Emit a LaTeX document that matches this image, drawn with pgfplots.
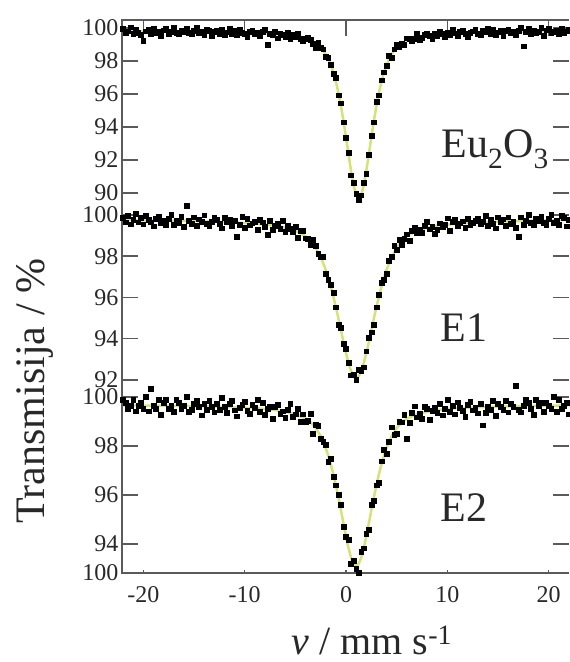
\documentclass[border=0pt]{standalone}
\usepackage{fontspec}
\setmainfont{Liberation Serif}
\usepackage{pgfplots}
\pgfplotsset{compat=1.18}
\usepackage{pgfplotstable}
\definecolor{fitc}{RGB}{214,226,120}
\definecolor{axc}{RGB}{90,90,90}
\definecolor{txt}{RGB}{40,40,40}

\pgfplotstableread{
x y1 y2 y3
-22.00 99.97 99.85 99.90
-21.75 99.73 99.65 99.78
-21.50 99.81 99.95 99.54
-21.25 100.05 99.55 99.66
-21.00 99.65 99.75 99.90
-20.75 99.89 100.05 99.42
-20.50 99.73 99.65 99.66
-20.25 99.57 99.85 99.78
-20.00 99.25 99.55 99.54
-19.75 99.81 99.95 100.02
-19.50 99.89 99.75 99.42
-19.25 99.65 99.65 100.35
-19.00 99.97 99.45 99.66
-18.75 99.73 99.82 99.52
-18.50 99.79 99.92 99.88
-18.25 99.55 99.62 99.28
-18.00 99.87 99.72 99.76
-17.75 99.95 99.52 99.88
-17.50 99.63 99.82 99.52
-17.25 99.79 100.02 99.64
-17.00 100.03 99.52 99.40
-16.75 99.71 99.72 99.88
-16.50 99.63 99.62 99.76
-16.25 99.87 99.92 99.52
-16.00 99.79 99.42 99.64
-15.75 99.95 100.45 100.00
-15.50 99.71 99.72 99.40
-15.25 99.63 99.59 99.50
-15.00 99.85 99.89 99.74
-14.75 100.01 99.49 99.86
-14.50 99.69 99.79 99.62
-14.25 99.77 99.69 99.26
-14.00 99.61 99.99 99.74
-13.75 99.93 99.59 99.50
-13.50 99.85 99.49 99.86
-13.25 99.53 99.69 99.62
-13.00 99.77 99.89 99.38
-12.75 99.85 99.76 99.72
-12.50 99.67 99.56 99.48
-12.25 99.91 99.36 99.96
-12.00 99.59 99.86 99.60
-11.75 99.75 99.66 99.36
-11.50 99.99 99.76 99.72
-11.25 99.67 99.46 99.84
-11.00 99.83 99.73 99.46
-10.75 99.57 98.95 99.22
-10.50 99.89 99.53 99.58
-10.25 99.73 99.93 99.70
-10.00 99.65 99.40 99.80
-9.75 99.47 99.80 99.44
-9.50 99.79 99.50 99.32
-9.25 99.87 99.60 99.68
-9.00 99.63 99.68 99.55
-8.75 99.70 99.27 99.90
-8.50 99.53 99.76 99.41
-8.25 99.76 99.65 99.77
-8.00 99.91 99.44 99.28
-7.75 99.00 99.05 99.51
-7.50 99.65 99.71 99.62
-7.25 99.56 99.30 99.12
-7.00 99.79 99.48 99.59
-6.75 99.38 99.56 99.70
-6.50 99.68 99.33 99.32
-6.25 99.58 99.71 99.42
-6.00 99.48 99.18 99.16
-5.75 99.70 99.46 99.50
-5.50 99.36 99.32 99.72
-5.25 99.58 99.18 99.21
-5.00 99.47 99.44 99.30
-4.75 99.68 98.88 99.51
-4.50 99.33 99.22 98.99
-4.25 99.21 99.25 99.30
-4.00 99.33 98.87 99.00
-3.75 99.44 98.86 99.05
-3.50 99.30 98.54 99.33
-3.25 99.07 98.79 98.51
-3.00 98.82 98.51 98.86
-2.75 99.11 98.11 98.83
-2.50 98.82 97.96 98.29
-2.25 98.72 97.97 98.19
-2.00 98.26 97.14 98.04
-1.75 98.22 96.86 97.37
-1.50 97.77 96.63 97.50
-1.25 97.24 96.25 96.74
-1.00 97.00 95.53 96.40
-0.75 95.93 94.69 96.02
-0.50 95.44 94.52 95.62
-0.25 94.29 93.74 94.72
0.00 93.37 93.50 94.31
0.25 92.42 92.82 94.19
0.50 91.08 92.23 93.20
0.75 90.62 92.28 93.31
1.00 89.94 92.00 92.98
1.25 89.57 92.48 92.83
1.50 89.86 92.43 93.68
1.75 90.62 92.62 93.83
2.00 91.16 93.40 94.43
2.25 92.34 94.04 94.60
2.50 93.45 94.32 95.62
2.75 94.29 94.69 95.78
3.00 95.52 95.53 96.40
3.25 95.93 96.15 96.50
3.50 96.84 96.73 97.38
3.75 97.32 96.86 97.85
4.00 97.69 97.14 97.68
4.25 98.30 97.77 98.19
4.50 98.18 97.96 98.77
4.75 98.72 98.51 98.47
5.00 98.98 98.31 98.50
5.25 98.87 98.79 98.99
5.50 99.06 98.54 98.97
5.75 98.99 98.86 99.29
6.00 99.38 99.07 98.30
6.25 99.36 98.75 98.94
6.50 99.25 99.22 99.35
6.75 99.37 99.38 99.63
7.00 99.65 99.14 99.18
7.25 99.28 99.28 99.33
7.50 99.39 99.12 99.12
7.75 99.58 99.46 99.62
8.00 99.68 99.68 99.52
8.25 99.54 99.31 99.06
8.50 99.32 99.43 99.44
8.75 99.66 99.10 99.58
9.00 99.52 99.28 99.35
9.25 99.78 99.60 99.72
9.50 99.63 99.41 99.26
9.75 99.48 99.53 99.51
10.00 99.73 99.84 99.88
10.25 99.58 99.25 99.41
10.50 99.91 99.66 99.65
10.75 99.68 99.77 99.30
11.00 99.53 99.48 99.79
11.25 99.78 99.60 99.56
11.50 99.87 99.70 99.44
11.75 99.63 99.40 99.20
12.00 99.47 99.80 99.68
12.25 99.71 99.53 99.82
12.50 99.81 99.63 99.46
12.75 99.89 99.73 99.58
13.00 99.65 99.83 99.34
13.25 99.57 99.56 99.72
13.50 99.83 99.66 98.85
13.75 99.75 99.96 99.36
14.00 99.99 99.46 99.60
14.25 99.67 99.76 99.48
14.50 99.91 99.56 99.84
14.75 99.59 99.36 99.24
15.00 99.75 99.89 99.74
15.25 99.85 99.69 99.62
15.50 99.53 99.79 99.50
15.75 99.85 99.49 99.86
16.00 99.93 99.89 99.38
16.25 99.69 99.59 99.74
16.50 99.77 99.69 99.62
16.75 99.61 99.39 100.45
17.00 99.85 98.95 99.50
17.25 100.01 99.89 99.38
17.50 98.90 99.52 99.64
17.75 99.79 99.72 99.88
18.00 99.95 100.02 99.76
18.25 99.63 99.62 99.52
18.50 99.87 99.52 99.28
18.75 99.71 99.82 99.88
19.00 99.79 99.72 99.64
19.25 100.03 99.92 99.76
19.50 99.55 99.62 99.40
19.75 99.87 99.52 99.76
20.00 99.95 99.82 99.64
20.25 99.71 100.02 99.52
20.50 99.79 99.62 100.00
20.75 99.87 99.72 99.40
21.00 99.63 99.52 99.88
21.25 99.97 99.95 99.54
21.50 99.73 99.85 99.66
21.75 99.81 99.45 99.78
22.00 99.89 99.75 99.30
}\spectra

\pgfplotstableread{
x f
-22 99.81
-16 99.79
-12 99.75
-9 99.71
-7 99.63
-6 99.56
-5 99.47
-4 99.33
-3.5 99.22
-3 99.06
-2.5 98.82
-2 98.42
-1.75 98.14
-1.5 97.77
-1.25 97.32
-1 96.76
-0.75 96.09
-0.5 95.28
-0.25 94.37
0 93.37
0.25 92.34
0.5 91.32
0.75 90.46
1.0 89.86
1.25 89.65
1.5 89.86
1.75 90.46
2.0 91.32
2.25 92.34
2.5 93.37
2.75 94.37
3.0 95.28
3.25 96.09
3.5 96.76
3.75 97.32
4.0 97.77
4.25 98.14
4.5 98.42
5.0 98.82
5.5 99.06
6.0 99.22
6.5 99.33
7.5 99.47
8.5 99.56
9.5 99.63
11.5 99.71
14.5 99.75
18.5 99.79
22 99.81
}\fitA

\pgfplotstableread{
x f
-22 99.75
-16 99.72
-12 99.66
-9 99.58
-7 99.48
-6 99.38
-5 99.24
-4 98.97
-3.5 98.74
-3 98.41
-2.5 97.96
-2 97.34
-1.75 96.96
-1.5 96.53
-1.25 96.05
-1 95.53
-0.75 94.99
-0.5 94.42
-0.25 93.84
0 93.30
0.25 92.82
0.5 92.43
0.75 92.18
1.0 92.10
1.25 92.18
1.5 92.43
1.75 92.82
2.0 93.30
2.25 93.84
2.5 94.42
2.75 94.99
3.0 95.53
3.25 96.05
3.5 96.53
3.75 96.96
4.0 97.34
4.5 97.96
5.0 98.41
5.5 98.74
6.0 98.97
7 99.24
8 99.38
9 99.48
11 99.58
14 99.66
18 99.72
22 99.75
}\fitB

\pgfplotstableread{
x f
-22 99.66
-16 99.64
-12 99.60
-9 99.55
-7 99.47
-6 99.40
-5 99.30
-4 99.12
-3.5 98.97
-3 98.74
-2.5 98.41
-2 97.92
-1.75 97.61
-1.5 97.26
-1.25 96.86
-1 96.40
-0.75 95.90
-0.5 95.38
-0.25 94.84
0 94.31
0.25 93.83
0.5 93.44
0.75 93.19
1.0 93.10
1.25 93.19
1.5 93.44
1.75 93.83
2.0 94.31
2.25 94.84
2.5 95.38
2.75 95.90
3.0 96.40
3.25 96.86
3.5 97.26
3.75 97.61
4.0 97.92
4.5 98.41
5.0 98.74
5.5 98.97
6 99.12
7 99.30
8 99.40
9 99.47
11 99.55
14 99.60
18 99.64
22 99.66
}\fitC

\tikzset{frame/.style={draw=axc, line width=1.2pt}}
\pgfplotsset{
  panel/.style={
    scale only axis, width=447pt,
    xmin=-22.1, xmax=22,
    anchor=south west,
    clip=false,
    axis line style={draw=none},
    xtick style={draw=axc, line width=1.5pt},
    ytick style={draw=axc, line width=1.5pt},
    major tick length=16pt,
    tick align=inside,
    ytick pos=both,
    yticklabel pos=left,
    xtick={-20,-10,0,10,20},
    tick label style={font=\fontsize{24}{28}\selectfont, text=txt},
    /pgf/number format/assume math mode=true,
  },
  dots/.style={only marks, mark=square*, mark size=2.4pt, draw=black, fill=black},
  fitl/.style={no marks, draw=fitc, line width=2.5pt},
}

\begin{document}
\begin{tikzpicture}
% bottom panel: E2
\begin{axis}[panel, at={(0pt,0pt)}, height=186pt,
  ymin=92.82, ymax=100.41,
  xtick=\empty,
  extra x ticks={-20,-10,0,10,20},
  extra x tick labels={-20,-10,0,10,20},
  extra x tick style={major tick length=3pt, tick pos=left,
    xticklabel style={yshift=-10pt}},
  ytick={92.82,94,96,98,100},
  yticklabels={100,94,96,98,100}]
  \draw[frame] (rel axis cs:0,1) -- (rel axis cs:0,0) -- (rel axis cs:1,0);
  \addplot[fitl] table[x=x, y=f] {\fitC};
  \addplot[dots] table[x=x, y=y3] {\spectra};
\end{axis}
% middle panel: E1
\begin{axis}[panel, at={(0pt,186pt)}, height=183pt,
  ymin=91.66, ymax=100.53,
  xtick=\empty,
  ytick={92,94,96,98,100},
  yticklabels={92,94,96,98,100}]
  \draw[frame] (rel axis cs:0,1) -- (rel axis cs:0,0);
  \addplot[fitl] table[x=x, y=f] {\fitB};
  \addplot[dots] table[x=x, y=y2] {\spectra};
\end{axis}
% top panel: Eu2O3
\begin{axis}[panel, at={(0pt,369pt)}, height=184pt,
  ymin=89.33, ymax=100.485,
  xtick pos=right,
  xticklabels={},
  ytick={90,92,94,96,98,100},
  yticklabels={90,92,94,96,98,100}]
  \draw[frame] (rel axis cs:0,0) -- (rel axis cs:0,1) -- (rel axis cs:1,1);
  \addplot[fitl] table[x=x, y=f] {\fitA};
  \addplot[dots] table[x=x, y=y1] {\spectra};
\end{axis}

\node[anchor=base west, font=\fontsize{42}{48}\selectfont, text=txt] at (316pt,415pt) {Eu\textsubscript{2}O\textsubscript{3}};
\node[anchor=base west, font=\fontsize{42}{48}\selectfont, text=txt] at (315pt,231pt) {E1};
\node[anchor=base west, font=\fontsize{42}{48}\selectfont, text=txt] at (315pt,51pt) {E2};
\node[rotate=90, anchor=base, font=\fontsize{42}{48}\selectfont, text=txt] at (-77pt,182pt) {Transmisija / \%};
\node[anchor=base, font=\fontsize{40}{46}\selectfont, text=txt] at (250pt,-81pt) {\textit{v} / mm s\textsuperscript{-1}};

\pgfresetboundingbox
\useasboundingbox (-122pt,-89pt) rectangle (448pt,573pt);
\end{tikzpicture}
\end{document}
